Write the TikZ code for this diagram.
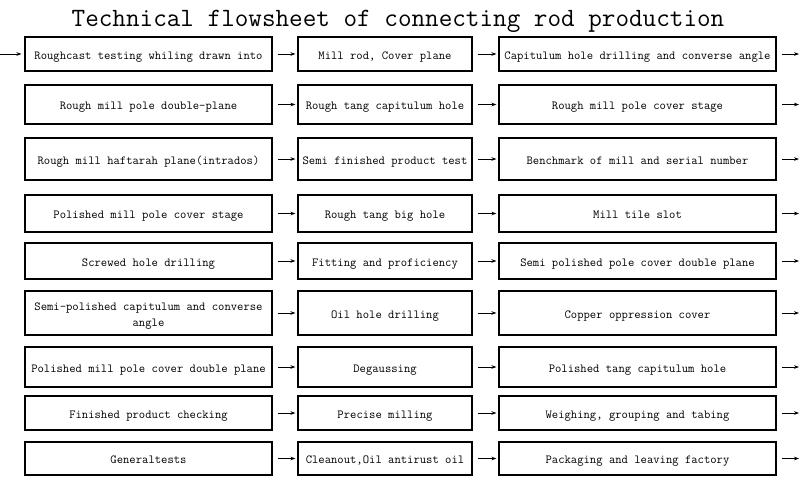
\documentclass[tikz,border=0pt]{standalone}
\usepackage{fontspec}
\usetikzlibrary{arrows.meta}
\tikzset{
    % Boxes
    stage/.style={draw, line width=1.2pt, align=center, inner sep=1pt,
        text height=10.5pt, text depth=0pt,
        font=\ttfamily\fontsize{12.3}{16}\selectfont},
    first col/.style={stage, minimum width=247pt},
    middle col/.style={stage, minimum width=174pt},
    last col/.style={stage, minimum width=277pt},
    title/.style={font=\ttfamily\fontsize{26.4}{30}\selectfont},
    %
    % Arrows
    arrow tip/.tip={Stealth[length=5pt,width=3.6pt]},
    arr/.style={->, >={arrow tip}, line width=0.7pt, shorten <=5pt, shorten >=2pt}
}

\begin{document}
\begin{tikzpicture}[x=1pt,y=-1pt]
        \useasboundingbox[fill=white] (0,0) rectangle (800,485);

        \node[title, anchor=base] (head) at (398,26) {Technical flowsheet of connecting rod production};

        % first column
        \node[first col, minimum height=34pt] (a1) at (148.5,54) {Roughcast testing whiling drawn into};
        \node[first col, minimum height=39pt] (a2) at (148.5,104.5) {Rough mill pole double-plane};
        \node[first col, minimum height=42pt] (a3) at (148.5,159) {Rough mill haftarah plane(intrados)};
        \node[first col, minimum height=37pt] (a4) at (148.5,213.5) {Polished mill pole cover stage};
        \node[first col, minimum height=36pt] (a5) at (148.5,261) {Screwed hole drilling};
        \node[first col, minimum height=44pt, text height=26pt] (a6) at (148.5,313) {Semi-polished capitulum and converse\\angle};
        \node[first col, minimum height=40pt] (a7) at (148.5,367) {Polished mill pole cover double plane};
        \node[first col, minimum height=34pt] (a8) at (148.5,413) {Finished product checking};
        \node[first col, minimum height=33pt] (a9) at (148.5,458.5) {Generaltests};

        % middle column
        \node[middle col, minimum height=34pt] (b1) at (385,54) {Mill rod, Cover plane};
        \node[middle col, minimum height=39pt] (b2) at (385,104.5) {Rough tang capitulum hole};
        \node[middle col, minimum height=42pt] (b3) at (385,159) {Semi finished product test};
        \node[middle col, minimum height=37pt] (b4) at (385,213.5) {Rough tang big hole};
        \node[middle col, minimum height=36pt] (b5) at (385,261) {Fitting and proficiency};
        \node[middle col, minimum height=44pt] (b6) at (385,313) {Oil hole drilling};
        \node[middle col, minimum height=40pt] (b7) at (385,367) {Degaussing};
        \node[middle col, minimum height=34pt] (b8) at (385,413) {Precise milling};
        \node[middle col, minimum height=33pt] (b9) at (385,458.5) {Cleanout,Oil antirust oil};

        % last column
        \node[last col, minimum height=34pt] (c1) at (637.5,54) {Capitulum hole drilling and converse angle};
        \node[last col, minimum height=39pt] (c2) at (637.5,104.5) {Rough mill pole cover stage};
        \node[last col, minimum height=42pt] (c3) at (637.5,159) {Benchmark of mill and serial number};
        \node[last col, minimum height=37pt] (c4) at (637.5,213.5) {Mill tile slot};
        \node[last col, minimum height=36pt] (c5) at (637.5,261) {Semi polished pole cover double plane};
        \node[last col, minimum height=44pt] (c6) at (637.5,313) {Copper oppression cover};
        \node[last col, minimum height=40pt] (c7) at (637.5,367) {Polished tang capitulum hole};
        \node[last col, minimum height=34pt] (c8) at (637.5,413) {Weighing, grouping and tabing};
        \node[last col, minimum height=33pt] (c9) at (637.5,458.5) {Packaging and leaving factory};

        % entry and exits
        \coordinate (start) at (0,54);
        \draw[arr, shorten <=0pt, shorten >=3pt] (start) -- (a1);
        \foreach \r/\y in {1/54, 2/104.5, 3/159, 4/213.5, 5/261, 6/313, 7/367, 8/413, 9/458.5}{
            \coordinate (exit\r) at (799,\y);
            \draw[arr] (a\r) -- (b\r);
            \draw[arr] (b\r) -- (c\r);
            \draw[arr, shorten >=0pt] (c\r) -- (exit\r);
        }
\end{tikzpicture}
\end{document}
